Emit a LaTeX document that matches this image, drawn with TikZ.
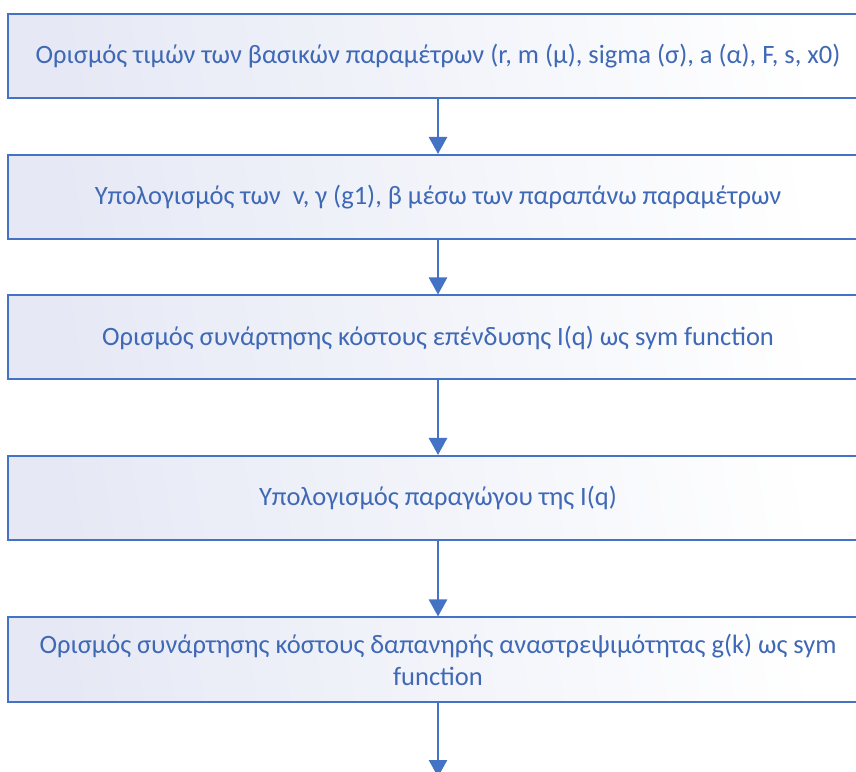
\documentclass[tikz,border=0pt]{standalone}
\usepackage{fontspec}
\setmainfont{Carlito}
\usetikzlibrary{arrows.meta}
\definecolor{flowblue}{HTML}{4472C4}
\definecolor{flowtext}{HTML}{3F69B6}
\definecolor{flowtint}{HTML}{E6E9F5}
\tikzset{
  stepbox/.style={draw=flowblue, line width=2pt, shading=axis,
    left color=flowtint, right color=white, shading angle=100,
    minimum width=860pt, minimum height=84pt, inner sep=0pt,
    text=flowtext, font=\fontsize{26.5}{32}\selectfont, align=center},
  flowarrow/.style={draw=flowblue, line width=2.5pt,
    -{Triangle[width=18pt,length=17pt]}}
}
\begin{document}
\begin{tikzpicture}[x=1pt,y=1pt]
\useasboundingbox (0,0) rectangle (856,771);
\clip (0,0) rectangle (856,771);
\node[stepbox] (p1) at (438,715) {Ορισμός τιμών των βασικών παραμέτρων (r, m (μ), sigma (σ), a (α), F, s, x0)};
\node[stepbox] (p2) at (438,574) {Υπολογισμός των \ v, γ (g1), β μέσω των παραπάνω παραμέτρων};
\node[stepbox] (p3) at (438,433.5) {Ορισμός συνάρτησης κόστους επένδυσης I(q) ως sym function};
\node[stepbox] (p4) at (438,273) {Υπολογισμός παραγώγου της I(q)};
\node[stepbox] (p5) at (438,111.5) {Ορισμός συνάρτησης κόστους δαπανηρής αναστρεψιμότητας g(k) ως sym\\function};
\coordinate (next) at (438,-6);
\draw[flowarrow] (p1.south) -- (p2.north);
\draw[flowarrow] (p2.south) -- (p3.north);
\draw[flowarrow] (p3.south) -- (p4.north);
\draw[flowarrow] (p4.south) -- (p5.north);
\draw[flowarrow] (p5.south) -- (next);
\end{tikzpicture}
\end{document}
